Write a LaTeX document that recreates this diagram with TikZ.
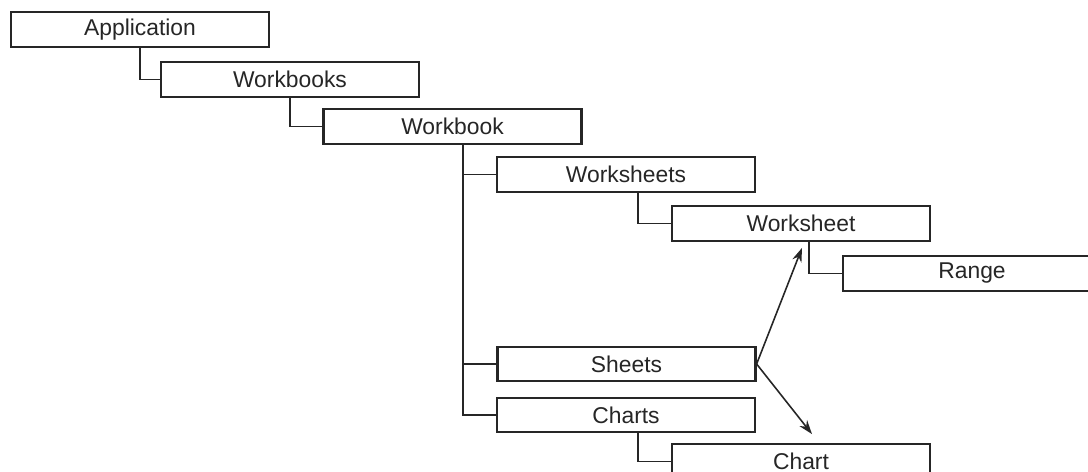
\documentclass[tikz,border=0pt]{standalone}
\usepackage{fontspec}
\setmainfont{Liberation Sans}
\usetikzlibrary{arrows.meta}
\tikzset{
	objbox/.style={draw=black!85, line width=1.3pt, fill=white, minimum width=5.16cm, minimum height=0.69cm, inner sep=0pt, font=\fontsize{13}{15}\selectfont, text=black!85},
	tie/.style={draw=black!85, line width=1.1pt},
	ptr/.style={draw=black!85, line width=0.9pt, -{Stealth[length=8pt, width=5.5pt]}}
}
\begin{document}
\begin{tikzpicture}[x=0.02cm, y=-0.02cm]
		\useasboundingbox (0,0) rectangle (1088,472);
		\clip (0,0) rectangle (1088,472);
		\node[objbox] (app) at (140,29.5) {Application};
		\node[objbox] (wbs) at (290,79.5) {Workbooks};
		\node[objbox] (wb) at (452.5,126.5) {Workbook};
		\node[objbox] (wss) at (626,174.5) {Worksheets};
		\node[objbox] (ws) at (801,223.5) {Worksheet};
		\node[objbox] (rng) at (972,273.5) {Range};
		\node[objbox] (sh) at (626.5,364) {Sheets};
		\node[objbox] (chs) at (626,415) {Charts};
		\node[objbox] (ch) at (801,461.5) {Chart};
		\draw[tie] (app.south) |- (wbs.west);
		\draw[tie] (wbs.south) |- (wb.west);
		\draw[tie] ([shift={(10.5,0)}]wb.south) |- (chs.west);
		\draw[tie] ([shift={(10.5,0)}]wb.south) |- (wss.west);
		\draw[tie] ([shift={(10.5,0)}]wb.south) |- (sh.west);
		\draw[tie] ([shift={(12,0)}]wss.south) |- (ws.west);
		\draw[tie] ([shift={(8,0)}]ws.south) |- (rng.west);
		\draw[tie] ([shift={(12,0)}]chs.south) |- (ch.west);
		\draw[ptr] (sh.east) -- ([shift={(1,6)}]ws.south);
		\draw[ptr] (sh.east) -- ([shift={(11,-9)}]ch.north);
\end{tikzpicture}
\end{document}
